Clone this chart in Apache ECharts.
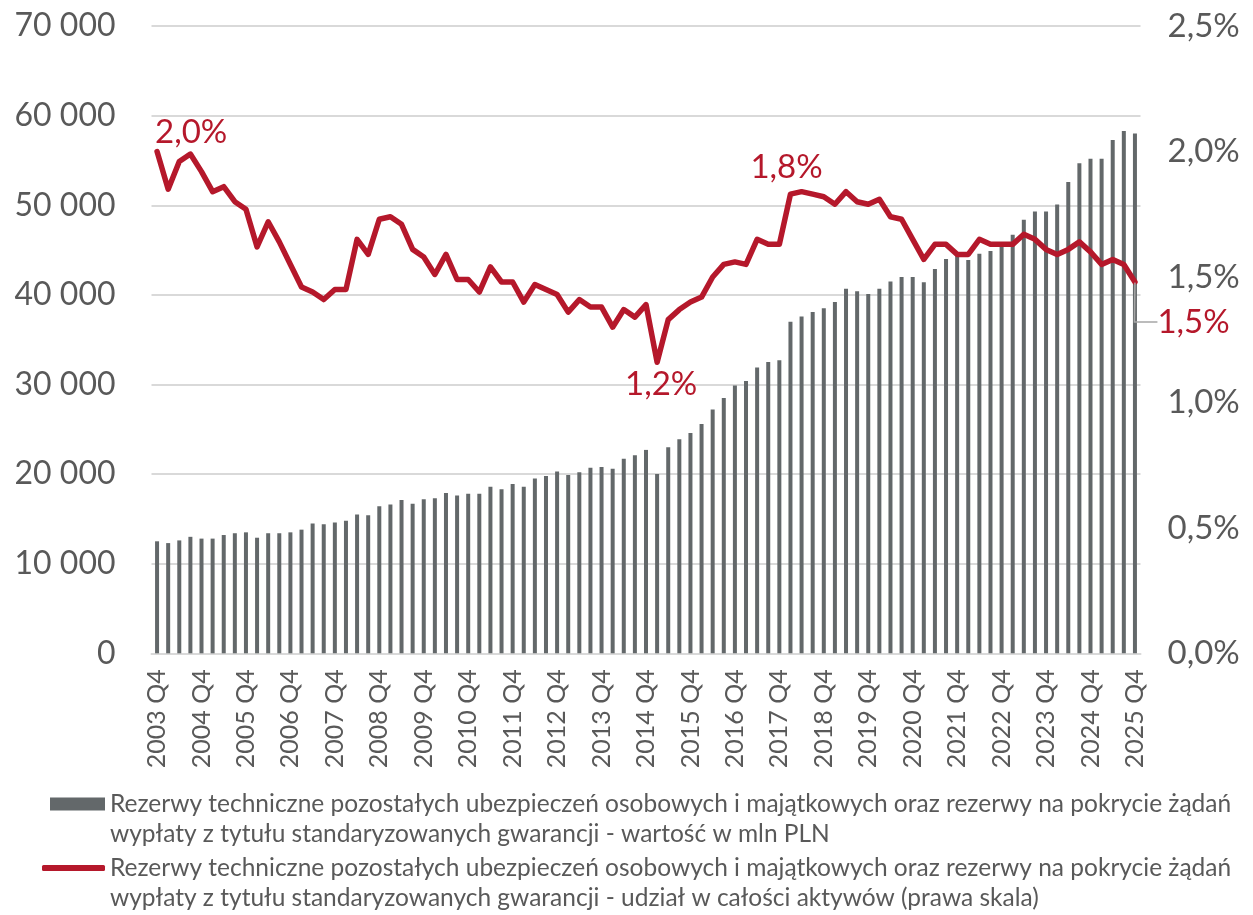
<!DOCTYPE html>
<html>
<head>
<meta charset="utf-8">
<script src="https://cdn.jsdelivr.net/npm/echarts@6/dist/echarts.min.js"></script>
<style>
  html, body { margin: 0; padding: 0; background: #fff; }
  #chart { width: 1253px; height: 915px; }
</style>
</head>
<body>
<div id="chart"></div>
<script>
// Quarterly periods, 2003 Q4 .. 2025 Q4
const firstYear = 2003;
const lastYear = 2025;
const categories = [];
categories.push(firstYear + ' Q4');
for (let y = firstYear + 1; y <= lastYear; y++) {
  for (let q = 1; q <= 4; q++) categories.push(y + ' Q' + q);
}

// Technical reserves, mln PLN (left scale)
const reserveValues = [
  12500, 12300, 12600, 13000, 12800, 12800, 13200, 13400, 13500, 12900,
  13400, 13400, 13500, 13800, 14500, 14400, 14600, 14800, 15500, 15400,
  16400, 16600, 17100, 16700, 17200, 17300, 17900, 17600, 17800, 17800,
  18600, 18300, 18900, 18600, 19500, 19800, 20300, 19900, 20200, 20700,
  20800, 20600, 21700, 22100, 22700, 20000, 23000, 23900, 24600, 25600,
  27200, 28500, 29900, 30400, 31900, 32500, 32700, 37000, 37600, 38100,
  38500, 39200, 40700, 40400, 40100, 40700, 41500, 42000, 42000, 41400,
  42900, 44000, 44400, 43900, 44600, 44900, 45900, 46700, 48400, 49300,
  49300, 50100, 52600, 54700, 55200, 55200, 57300, 58300, 58000
];

// Share of total assets, % (right scale)
const shareValues = [
  2.00, 1.85, 1.96, 1.99, 1.92, 1.84, 1.86, 1.80, 1.77, 1.62,
  1.72, 1.64, 1.55, 1.46, 1.44, 1.41, 1.45, 1.45, 1.65, 1.59,
  1.73, 1.74, 1.71, 1.61, 1.58, 1.51, 1.59, 1.49, 1.49, 1.44,
  1.54, 1.48, 1.48, 1.40, 1.47, 1.45, 1.43, 1.36, 1.41, 1.38,
  1.38, 1.30, 1.37, 1.34, 1.39, 1.16, 1.33, 1.37, 1.40, 1.42,
  1.50, 1.55, 1.56, 1.55, 1.65, 1.63, 1.63, 1.83, 1.84, 1.83,
  1.82, 1.79, 1.84, 1.80, 1.79, 1.81, 1.74, 1.73, 1.65, 1.57,
  1.63, 1.63, 1.59, 1.59, 1.65, 1.63, 1.63, 1.63, 1.67, 1.65,
  1.61, 1.59, 1.61, 1.64, 1.60, 1.55, 1.57, 1.55, 1.48
];

// Points of the share line that carry a value label
const labelledPoints = [0, 45, 58, 88];

const leftTicks = { min: 0, max: 70000, interval: 10000 };
const rightTicks = { min: 0, max: 2.5, interval: 0.5 };

const barLegendLines = [
  'Rezerwy techniczne pozostałych ubezpieczeń osobowych i majątkowych oraz rezerwy na pokrycie żądań',
  'wypłaty z tytułu standaryzowanych gwarancji - wartość w mln PLN'
];
const lineLegendLines = [
  'Rezerwy techniczne pozostałych ubezpieczeń osobowych i majątkowych oraz rezerwy na pokrycie żądań',
  'wypłaty z tytułu standaryzowanych gwarancji - udział w całości aktywów (prawa skala)'
];
const barName = barLegendLines.join(' ');
const lineName = lineLegendLines.join(' ');

const FONT = 'Lato';
const TEXT = '#595959';
const GRID = '#d9d9d9';
const BAR = '#63686a';
const RED = '#b5182b';

const pct = v => v.toFixed(1).replace('.', ',') + '%';
const thousands = v => String(v).replace(/\B(?=(\d{3})+(?!\d))/g, ' ');

const labelStyle = { show: true, color: RED, fontFamily: FONT, fontSize: 33, formatter: p => pct(p.value) };
const labelPlacement = {
  0: { position: 'top', align: 'left' },
  45: { position: 'bottom' },
  58: { position: 'top' },
  88: { position: 'right' }
};
// Nudges applied to the value labels after layout
const labelShift = {
  0: { dx: -2, dy: 3 },
  45: { dx: 4, dy: 0 },
  58: { dx: -15, dy: -2 },
  88: { dx: 17, dy: 40 }
};

const lineData = shareValues.map((v, i) => {
  if (labelledPoints.indexOf(i) < 0) return v;
  const item = { value: v, label: Object.assign({}, labelStyle, labelPlacement[i]) };
  if (i === 88) {
    // elbow leader: down from the point, then across to the label
    item.labelLine = { show: true, length2: 23, lineStyle: { color: '#a6a6a6', width: 1.5 } };
  }
  return item;
});

const legendText = { color: TEXT, fontFamily: FONT, fontSize: 24.5, lineHeight: 30 };

const chart = echarts.init(document.getElementById('chart'));
chart.setOption({
  animation: false,
  backgroundColor: '#ffffff',
  grid: { left: 151.5, right: 112.5, top: 26.1, bottom: 261.7, containLabel: false },
  legend: [
    {
      data: [barName], left: 50, top: 759, padding: 0, selectedMode: false,
      itemWidth: 55, itemHeight: 13, icon: 'rect',
      // blank first row keeps the swatch level with the first text row
      formatter: () => '\n' + barLegendLines.join('\n'), textStyle: legendText
    },
    {
      data: [lineName], left: 42, top: 823, padding: 0, selectedMode: false,
      itemWidth: 63, itemHeight: 6, icon: 'roundRect',
      formatter: () => '\n' + lineLegendLines.join('\n'), textStyle: legendText
    }
  ],
  xAxis: {
    type: 'category',
    data: categories,
    boundaryGap: true,
    axisLine: { lineStyle: { color: GRID, width: 2 } },
    axisTick: { show: false },
    axisLabel: {
      interval: 3, rotate: 90, margin: 16,
      color: TEXT, fontFamily: FONT, fontSize: 25
    }
  },
  yAxis: [
    {
      type: 'value', position: 'left',
      min: leftTicks.min, max: leftTicks.max, interval: leftTicks.interval,
      axisLine: { show: false }, axisTick: { show: false },
      splitLine: { lineStyle: { color: GRID, width: 2 } },
      axisLabel: { margin: 36, color: TEXT, fontFamily: FONT, fontSize: 32, formatter: thousands }
    },
    {
      type: 'value', position: 'right',
      min: rightTicks.min, max: rightTicks.max, interval: rightTicks.interval,
      axisLine: { show: false }, axisTick: { show: false },
      splitLine: { show: false },
      axisLabel: { margin: 27, color: TEXT, fontFamily: FONT, fontSize: 33, formatter: pct }
    }
  ],
  series: [
    {
      name: barName,
      type: 'bar',
      yAxisIndex: 0,
      data: reserveValues,
      barWidth: 4,
      itemStyle: { color: BAR }
    },
    {
      name: lineName,
      type: 'line',
      yAxisIndex: 1,
      data: lineData,
      symbol: 'circle',
      symbolSize: 1,
      showSymbol: true,
      showAllSymbol: true,
      lineStyle: { color: RED, width: 5.5, join: 'round', cap: 'round' },
      itemStyle: { color: RED },
      labelLayout: p => labelShift[p.dataIndex] || {},
      z: 3
    }
  ]
});
</script>
</body>
</html>
